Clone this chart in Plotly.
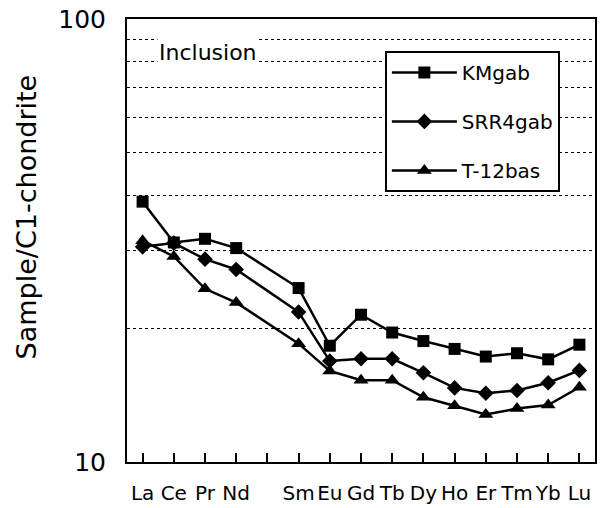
import plotly.graph_objects as go

elements = ["La", "Ce", "Pr", "Nd", "Pm", "Sm", "Eu", "Gd", "Tb", "Dy", "Ho", "Er", "Tm", "Yb", "Lu"]
tick_labels = ["La", "Ce", "Pr", "Nd", "", "Sm", "Eu", "Gd", "Tb", "Dy", "Ho", "Er", "Tm", "Yb", "Lu"]
plotted = ["La", "Ce", "Pr", "Nd", "Sm", "Eu", "Gd", "Tb", "Dy", "Ho", "Er", "Tm", "Yb", "Lu"]

KMgab = [38.7, 31.3, 31.9, 30.4, 24.7, 18.3, 21.5, 19.6, 18.75, 18.0, 17.3, 17.6, 17.05, 18.4]
SRR4gab = [30.6, 31.2, 28.7, 27.2, 21.8, 16.9, 17.1, 17.1, 15.9, 14.7, 14.3, 14.5, 15.1, 16.1]
T12bas = [31.6, 29.1, 24.6, 22.9, 18.5, 16.05, 15.3, 15.3, 14.0, 13.4, 12.8, 13.2, 13.45, 14.75]

grid_values = [10, 20, 30, 40, 50, 60, 70, 80, 90, 100]
grid_labels = ["10", "", "", "", "", "", "", "", "", "100"]

xpos = [elements.index(e) for e in plotted]
FONT = "DejaVu Sans"

series = [
    ("KMgab", KMgab, "square", 12),
    ("SRR4gab", SRR4gab, "diamond", 12),
    ("T-12bas", T12bas, "triangle-up", 13),
]

fig = go.Figure()
for i, (name, vals, sym, sz) in enumerate(series):
    fig.add_trace(go.Scatter(
        x=xpos, y=vals, name=name, mode="lines+markers",
        line=dict(color="black", width=2.5),
        marker=dict(symbol=sym, size=sz, color="black"),
        legendgroup=f"g{i}",
    ))

fig.update_layout(
    width=603, height=508,
    margin=dict(l=127, r=8, t=19, b=46, autoexpand=False),
    paper_bgcolor="white", plot_bgcolor="white",
    font=dict(family=FONT, color="black"),
    showlegend=True,
    legend=dict(
        x=0.551, y=0.928, xanchor="left", yanchor="top",
        bgcolor="white", bordercolor="black", borderwidth=2,
        font=dict(size=20, family=FONT),
        tracegroupgap=20, itemwidth=65,
        entrywidth=185, entrywidthmode="pixels",
    ),
    xaxis=dict(
        range=[-0.5, 14.5], automargin=False,
        tickmode="array", tickvals=list(range(len(elements))), ticktext=tick_labels,
        tickangle=0,
        ticks="inside", ticklen=9, tickwidth=1.5, tickcolor="black",
        tickfont=dict(size=20, family=FONT),
        ticklabelstandoff=12,
        showline=True, linecolor="black", linewidth=2, mirror=True,
        showgrid=False, zeroline=False,
    ),
    yaxis=dict(
        type="log", range=[1, 2], automargin=False,
        tickmode="array", tickvals=grid_values, ticktext=grid_labels,
        ticks="", tickfont=dict(size=25, family=FONT),
        ticklabelstandoff=14,
        showline=True, linecolor="black", linewidth=2, mirror=True,
        showgrid=True, gridcolor="black", gridwidth=1, griddash="dot",
        zeroline=False,
    ),
    annotations=[
        dict(text="Sample/C1-chondrite", xref="paper", yref="paper",
             x=-0.215, y=0.553, textangle=-90, showarrow=False,
             font=dict(size=27, family=FONT), xanchor="center", yanchor="middle"),
        dict(text="Inclusion", xref="paper", yref="paper",
             x=0.173, y=0.924, showarrow=False, bgcolor="white",
             font=dict(size=22, family=FONT), xanchor="center", yanchor="middle"),
    ],
)

fig.write_html("out.html")
